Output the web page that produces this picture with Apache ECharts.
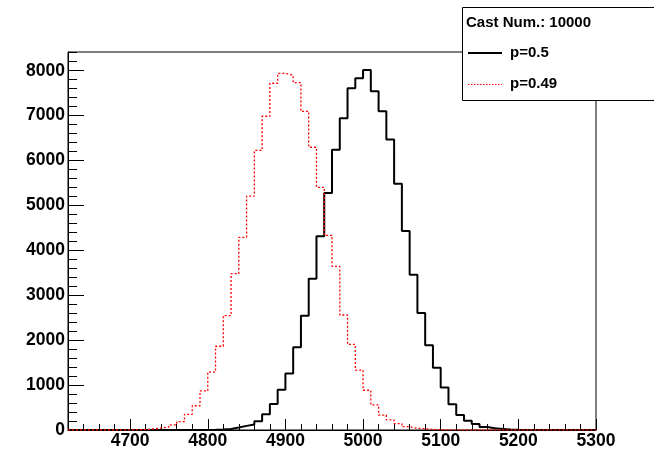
<!DOCTYPE html>
<html>
<head>
<meta charset="utf-8">
<script src="https://cdn.jsdelivr.net/npm/echarts@6/dist/echarts.min.js"></script>
<style>
html,body{margin:0;padding:0;background:#fff;}
#chart{width:654px;height:452px;}
</style>
</head>
<body>
<div id="chart"></div>
<script>
// Bin lower edges (bin width 10)
const binEdges = [4620,4630,4640,4650,4660,4670,4680,4690,4700,4710,4720,4730,4740,4750,4760,4770,4780,4790,4800,4810,4820,4830,4840,4850,4860,4870,4880,4890,4900,4910,4920,4930,4940,4950,4960,4970,4980,4990,5000,5010,5020,5030,5040,5050,5060,5070,5080,5090,5100,5110,5120,5130,5140,5150,5160,5170,5180,5190,5200,5210,5220,5230,5240,5250,5260,5270,5280,5290];
const xEnd = 5300;

// p = 0.5 (black, solid)
const countsP50 = [0,0,0,0,0,0,0,0,0,0,0,0,0,0,0,0,0,2,5,10,22,55,92,120,195,350,578,895,1259,1845,2545,3370,4311,5274,6237,6941,7607,7830,8015,7541,7096,6467,5481,4430,3459,2607,1885,1385,948,575,333,207,133,65,37,25,10,5,2,0,0,0,0,0,0,0,0,0];

// p = 0.49 (red, dotted)
const countsP49 = [0,0,0,0,0,0,0,2,4,8,25,45,70,115,185,350,540,870,1290,1865,2545,3480,4290,5205,6225,6985,7720,7940,7900,7735,7095,6295,5400,4335,3645,2560,1905,1335,885,560,333,225,140,74,35,30,12,6,3,1,0,0,0,0,0,0,0,0,0,0,0,0,0,0,0,0,0,0];

const seriesNames = ['p=0.5', 'p=0.49'];
const legendTitle = 'Cast Num.: 10000';

const xMajor = [4700,4800,4900,5000,5100,5200,5300];
const xMinor = [4620,4640,4660,4680,4720,4740,4760,4780,4820,4840,4860,4880,4920,4940,4960,4980,5020,5040,5060,5080,5120,5140,5160,5180,5220,5240,5260,5280];
const yMajor = [0,1000,2000,3000,4000,5000,6000,7000,8000];
const yMinor = [200,400,600,800,1200,1400,1600,1800,2200,2400,2600,2800,3200,3400,3600,3800,4200,4400,4600,4800,5200,5400,5600,5800,6200,6400,6600,6800,7200,7400,7600,7800,8200,8400];
const xMin = 4620, xMax = 5300, yMin = 0, yMax = 8416;

function stepData(vals){
  const d = binEdges.map((e,i)=>[e, vals[i]]);
  d.push([xEnd, vals[vals.length-1]]);
  return d;
}

const FONT = 'Liberation Sans';
const legendFont = {fontFamily:FONT, fontWeight:'bold', fontSize:15, fill:'#000'};
const chart = echarts.init(document.getElementById('chart'), null, {renderer:'canvas'});
chart.setOption({
  animation:false,
  backgroundColor:'#fff',
  grid:{left:68, top:52, right:58, bottom:22, show:true, borderColor:'#000', borderWidth:1, backgroundColor:'transparent'},
  graphic:[
    {type:'rect', z:7, shape:{x:462.5, y:7.5, width:220, height:93}, style:{fill:'#fff', stroke:'#000', lineWidth:1}},
    {type:'text', z:8, x:466, y:23, style:Object.assign({text:legendTitle, verticalAlign:'middle'}, legendFont)},
    {type:'line', z:8, shape:{x1:468, y1:53, x2:502, y2:53}, style:{stroke:'#000', lineWidth:2}},
    {type:'text', z:8, x:510, y:53, style:Object.assign({text:seriesNames[0], verticalAlign:'middle'}, legendFont)},
    {type:'line', z:8, shape:{x1:468, y1:84.5, x2:502, y2:84.5}, style:{stroke:'#ff0000', lineWidth:1, lineDash:[1.5,1.5]}},
    {type:'text', z:8, x:510, y:84, style:Object.assign({text:seriesNames[1], verticalAlign:'middle'}, legendFont)}
  ],
  xAxis:[
    {type:'value', min:xMin, max:xMax, position:'bottom',
      axisLine:{show:true, onZero:false, lineStyle:{color:'#000', width:1}},
      axisTick:{show:true, inside:true, length:11, customValues:xMajor, lineStyle:{color:'#000'}},
      axisLabel:{show:true, customValues:xMajor, margin:2, formatter:v=>String(v),
        fontFamily:FONT, fontWeight:'bold', fontSize:17.5, color:'#000'},
      splitLine:{show:false}},
    {type:'value', min:xMin, max:xMax, position:'bottom', gridIndex:0,
      axisLine:{show:false, onZero:false},
      axisTick:{show:true, inside:true, length:6, customValues:xMinor, lineStyle:{color:'#000'}},
      axisLabel:{show:false}, splitLine:{show:false}}
  ],
  yAxis:[
    {type:'value', min:yMin, max:yMax, position:'left',
      axisLine:{show:true, onZero:false, lineStyle:{color:'#000', width:1}},
      axisTick:{show:true, inside:true, length:16, customValues:yMajor, lineStyle:{color:'#000'}},
      axisLabel:{show:true, customValues:yMajor, margin:3, formatter:v=>String(v),
        fontFamily:FONT, fontWeight:'bold', fontSize:17.5, color:'#000'},
      splitLine:{show:false}},
    {type:'value', min:yMin, max:yMax, position:'left', gridIndex:0,
      axisLine:{show:false, onZero:false},
      axisTick:{show:true, inside:true, length:9, customValues:yMinor, lineStyle:{color:'#000'}},
      axisLabel:{show:false}, splitLine:{show:false}}
  ],
  series:[
    {name:seriesNames[0], type:'line', step:'end', xAxisIndex:0, yAxisIndex:0, symbol:'none', z:2,
      data:stepData(countsP50), lineStyle:{color:'#000', width:2, type:'solid'}, itemStyle:{color:'#000'}},
    {name:seriesNames[1], type:'line', step:'end', xAxisIndex:0, yAxisIndex:0, symbol:'none', z:3,
      data:stepData(countsP49), lineStyle:{color:'#ff0000', width:1.3, type:[2,2]}, itemStyle:{color:'#ff0000'}}
  ]
});
</script>
</body>
</html>
